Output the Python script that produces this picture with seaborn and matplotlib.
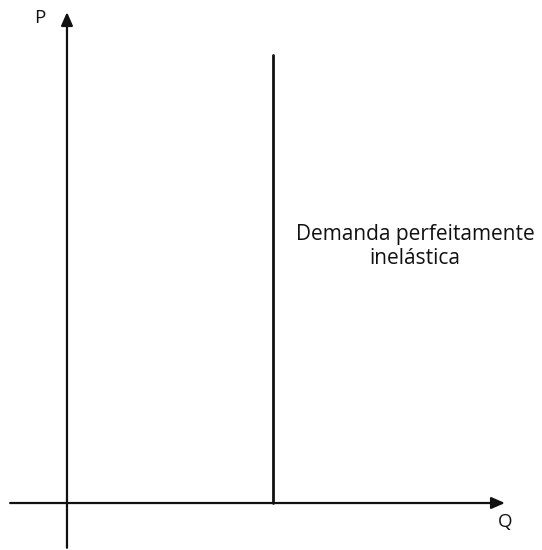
import matplotlib
matplotlib.use("Agg")
import matplotlib.pyplot as plt
import seaborn as sns
import pandas as pd

sns.set_style("white")
plt.rcParams["font.family"] = ["Open Sans", "DejaVu Sans"]

# Perfectly inelastic demand: quantity fixed regardless of price
demand_q = [5.0, 5.0]
demand_p = [0.0, 10.0]
axis_labels = ["P", "Q"]
curve_label = "Demanda perfeitamente\ninelástica"

fig = plt.figure(figsize=(5.42, 5.5), dpi=100)
ax = fig.add_axes([0, 0, 1, 1])
ax.set_xlim(-1.626, 11.53)
ax.set_ylim(-1.049, 11.23)
ax.axis("off")

ink = "#111111"

# Coordinate axes with arrowheads
arrow = dict(arrowstyle="-|>,head_length=0.8,head_width=0.35", color=ink, lw=1.6,
             shrinkA=0, shrinkB=0)
ax.annotate("", xy=(10.63, 0), xytext=(-1.38, 0), arrowprops=arrow)
ax.annotate("", xy=(0, 10.96), xytext=(0, -1.0), arrowprops=arrow)

# Demand curve
df = pd.DataFrame({"Q": demand_q, "P": demand_p})
sns.lineplot(data=df, x="Q", y="P", ax=ax, color=ink, lw=2.0, sort=False,
             estimator=None)

ax.text(-0.655, 10.83, axis_labels[0], fontsize=13.5, color=ink,
        ha="center", va="center")
ax.text(10.63, -0.42, axis_labels[1], fontsize=13.5, color=ink,
        ha="center", va="center")
ax.text(8.45, 5.73, curve_label, fontsize=15, color=ink,
        ha="center", va="center", linespacing=1.2)

fig.savefig("out.png", dpi=100)
